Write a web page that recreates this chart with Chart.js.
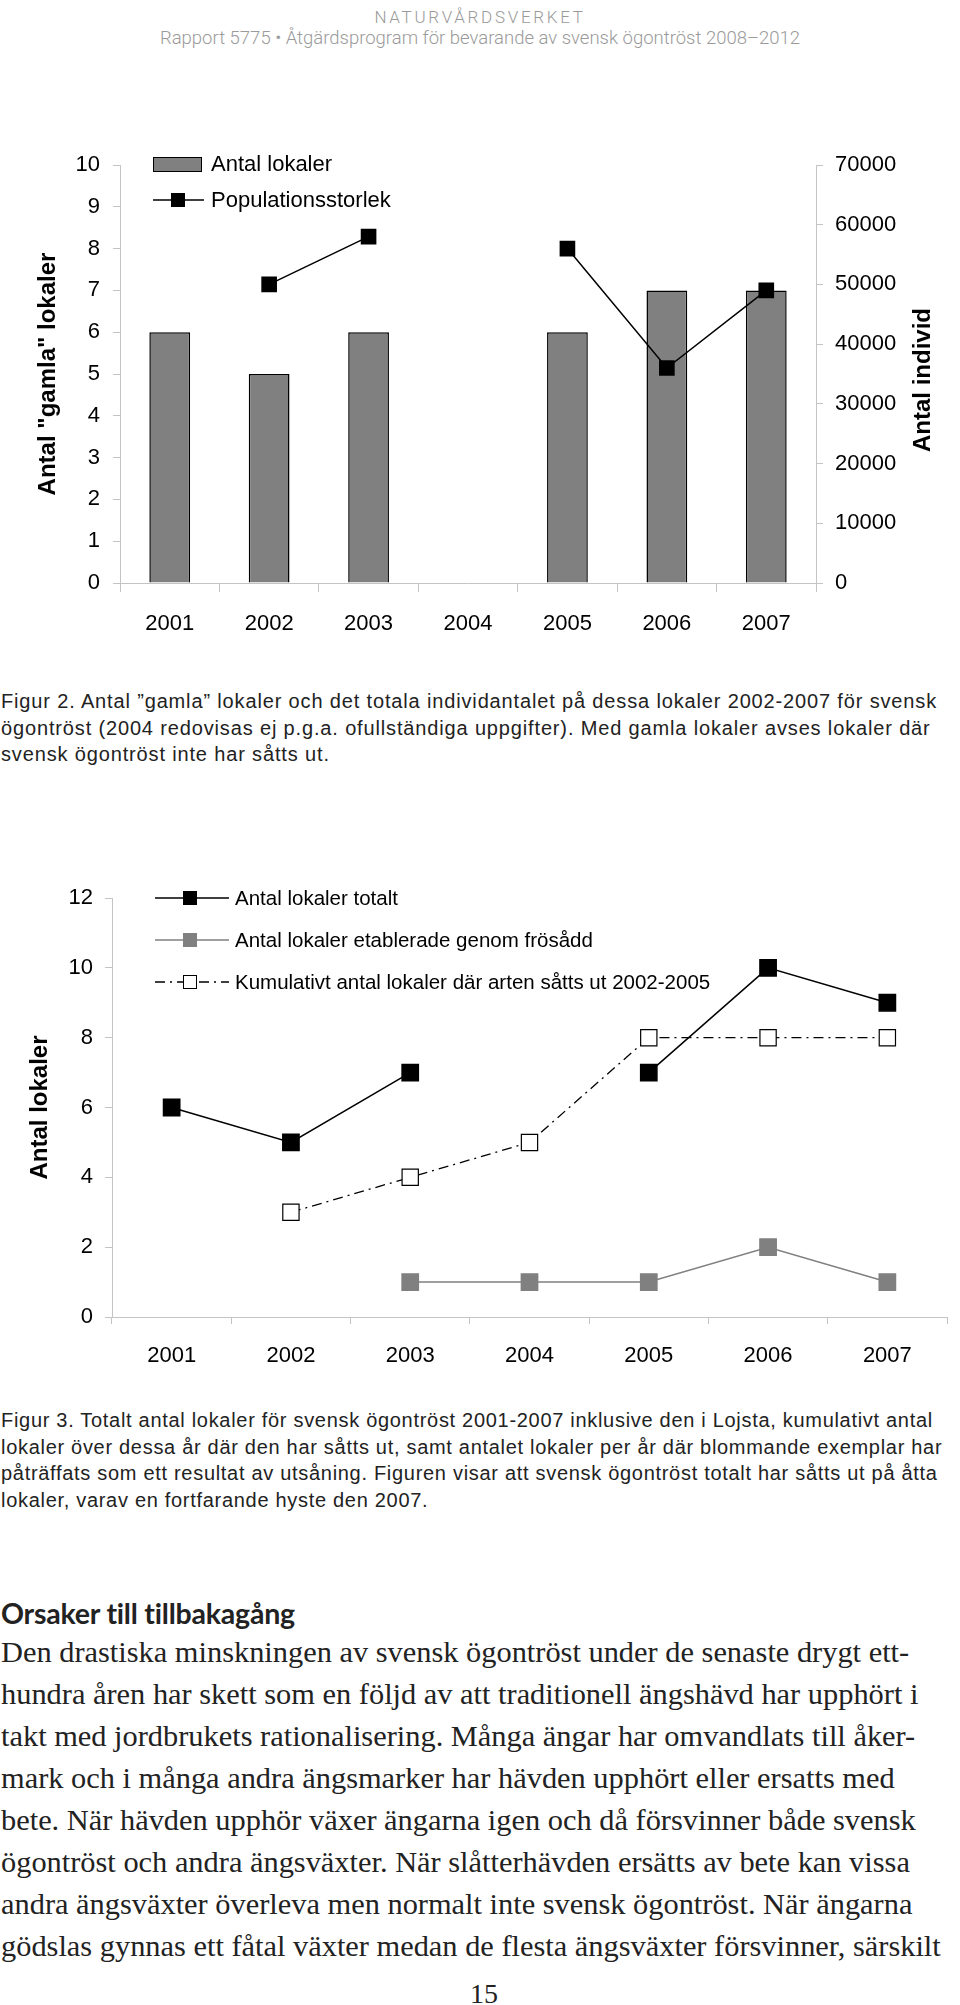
<!DOCTYPE html>
<html>
<head>
<meta charset="utf-8">
<script src="https://cdn.jsdelivr.net/npm/chart.js@4.4.0/dist/chart.umd.min.js"></script>
<style>
    body { margin: 0; background: #fff; width: 960px; height: 2005px; position: relative; overflow: hidden; }
    .t { position: absolute; white-space: nowrap; color: #000; }
    .huvud1 { left: 0; width: 960px; text-align: center; top: 6.5px; font: 300 17px/20px Roboto, "Liberation Sans", sans-serif; letter-spacing: 2.7px; color: #9a9a9a; }
    .huvud2 { left: 0; width: 960px; text-align: center; top: 28px; font: 300 18.5px/20px Roboto, "Liberation Sans", sans-serif; color: #9a9a9a; }
    .figtext { left: 1px; font: 20px/26.5px "Liberation Sans", Arial, sans-serif; letter-spacing: 0.85px; color: #222; }
    .rubrik { left: 1px; top: 1597px; font: bold 28.5px/32px Lato, "Open Sans", sans-serif; letter-spacing: -0.2px; color: #222; }
    .brod { left: 1px; top: 1631px; font: 30.4px/42px "Liberation Serif", "DejaVu Serif", serif; color: #222; }
    .sida { left: 0; width: 968px; text-align: center; top: 1975px; font: 28px/37.3px "Liberation Serif", serif; color: #222; }
    .ruta { position: absolute; left: 0; width: 960px; }
</style>
</head>
<body>
<div class="t huvud1">NATURVÅRDSVERKET</div>
<div class="t huvud2">Rapport 5775 • Åtgärdsprogram för bevarande av svensk ögontröst 2008–2012</div>

<div class="ruta" style="top:130px;height:520px"><canvas id="grafico1" width="960" height="520"></canvas></div>

<div class="t figtext" style="top:688px">Figur 2. Antal ”gamla” lokaler och det totala individantalet på dessa lokaler 2002-2007 för svensk<br>ögontröst (2004 redovisas ej p.g.a. ofullständiga uppgifter). Med gamla lokaler avses lokaler där<br>svensk ögontröst inte har såtts ut.</div>

<div class="ruta" style="top:860px;height:520px"><canvas id="grafico2" width="960" height="520"></canvas></div>

<div class="t figtext" style="top:1407px;letter-spacing:0.7px">Figur 3. Totalt antal lokaler för svensk ögontröst 2001-2007 inklusive den i Lojsta, kumulativt antal<br>lokaler över dessa år där den har såtts ut, samt antalet lokaler per år där blommande exemplar har<br>påträffats som ett resultat av utsåning. Figuren visar att svensk ögontröst totalt har såtts ut på åtta<br>lokaler, varav en fortfarande hyste den 2007.</div>

<div class="t rubrik">Orsaker till tillbakagång</div>
<div class="t brod">Den drastiska minskningen av svensk ögontröst under de senaste drygt ett-<br>hundra åren har skett som en följd av att traditionell ängshävd har upphört i<br>takt med jordbrukets rationalisering. Många ängar har omvandlats till åker-<br>mark och i många andra ängsmarker har hävden upphört eller ersatts med<br>bete. När hävden upphör växer ängarna igen och då försvinner både svensk<br>ögontröst och andra ängsväxter. När slåtterhävden ersätts av bete kan vissa<br>andra ängsväxter överleva men normalt inte svensk ögontröst. När ängarna<br>gödslas gynnas ett fåtal växter medan de flesta ängsväxter försvinner, särskilt</div>
<div class="t sida">15</div>

<script>
const ar = ['2001', '2002', '2003', '2004', '2005', '2006', '2007'];

// figur 2
const antalLokaler = [6, 5, 6, null, 6, 7, 7];
const populationsstorlek = [null, 50000, 58000, null, 56000, 36000, 49000];
const lokalTicks1 = [0, 1, 2, 3, 4, 5, 6, 7, 8, 9, 10];
const individTicks = [0, 10000, 20000, 30000, 40000, 50000, 60000, 70000];

// figur 3
const lokalerTotalt = [6, 5, 7, null, 7, 10, 9];
const lokalerFrosadd = [null, null, 1, 1, 1, 2, 1];
const lokalerKumulativt = [null, 3, 4, 5, 8, 8, 8];
const lokalTicks2 = [0, 2, 4, 6, 8, 10, 12];

const F = '"Liberation Sans", Arial, sans-serif';
const GRA_AXEL = '#c4c4c4';

window.onload = function () {
    lokalerDiagram();
    utsaningDiagram();
}

function axel(extra) {
    return Object.assign({
        grid: { drawOnChartArea: false, drawTicks: true, tickLength: 7, color: GRA_AXEL },
        border: { color: GRA_AXEL },
        ticks: { color: '#000', font: { family: F, size: 22 }, padding: 13, callback: v => String(v) },
    }, extra);
}

function tickar(lista) {
    return function (s) {
        s.ticks = lista.map(v => ({ value: v }));
    };
}

function lokalerDiagram() {
    const legendPlugin = {
        id: 'legend1',
        afterDraw(chart) {
            const c = chart.ctx;
            c.save();
            // Antal lokaler
            c.fillStyle = '#808080';
            c.strokeStyle = '#000';
            c.lineWidth = 1;
            c.fillRect(153, 27, 49, 15);
            c.strokeRect(153.5, 27.5, 48, 14);
            // Populationsstorlek
            c.beginPath();
            c.moveTo(153, 70);
            c.lineTo(204, 70);
            c.lineWidth = 1.5;
            c.stroke();
            c.fillStyle = '#000';
            c.fillRect(171, 63, 14, 14);
            c.font = '22px ' + F;
            c.textBaseline = 'middle';
            c.fillText('Antal lokaler', 211, 35);
            c.fillText('Populationsstorlek', 211, 71);
            // högeraxelns titel
            c.translate(923, 250);
            c.rotate(-Math.PI / 2);
            c.textAlign = 'center';
            c.font = 'bold 24px ' + F;
            c.fillText('Antal individ', 0, 0);
            c.restore();
        }
    };

    const ctx = document.getElementById('grafico1').getContext('2d');
    const myChart = new Chart(ctx, {
        type: 'bar',
        data: {
            labels: ar,
            datasets: [{
                type: 'line',
                label: 'Populationsstorlek',
                data: populationsstorlek,
                yAxisID: 'y1',
                borderColor: '#000',
                borderWidth: 1.5,
                pointStyle: 'rect',
                pointRadius: 10,
                pointBackgroundColor: '#000',
                pointBorderColor: '#000',
                spanGaps: false,
                order: 0
            }, {
                label: 'Antal lokaler',
                data: antalLokaler,
                yAxisID: 'y',
                backgroundColor: '#808080',
                borderColor: '#000',
                borderWidth: 1.5,
                categoryPercentage: 1,
                barPercentage: 0.41,
                order: 1
            }]
        },
        options: {
            responsive: false,
            animation: false,
            layout: { padding: { top: 35, left: 0, right: 0, bottom: 0 } },
            plugins: { legend: { display: false }, tooltip: { enabled: false } },
            scales: {
                x: axel({
                    offset: true,
                    grid: { offset: true, drawOnChartArea: false, drawTicks: true, tickLength: 9, color: GRA_AXEL },
                    ticks: { color: '#000', font: { family: F, size: 22 }, padding: 19, maxRotation: 0, autoSkip: false },
                    afterFit: s => { s.height = 67; }
                }),
                y: axel({
                    position: 'left',
                    min: 0,
                    max: 10,
                    afterBuildTicks: tickar(lokalTicks1),
                    title: { display: true, text: 'Antal "gamla" lokaler', color: '#000', font: { family: F, size: 24, weight: 'bold' }, padding: { top: 34, bottom: 0 } },
                    afterFit: s => { s.width = 120; }
                }),
                y1: axel({
                    position: 'right',
                    min: 0,
                    max: 70000,
                    afterBuildTicks: tickar(individTicks),
                    ticks: { color: '#000', font: { family: F, size: 22 }, padding: 12, callback: v => String(v) },
                    afterFit: s => { s.width = 144; }
                })
            }
        },
        plugins: [legendPlugin]
    });
}

function utsaningDiagram() {
    const legendPlugin = {
        id: 'legend2',
        afterDraw(chart) {
            const c = chart.ctx;
            const rader = [
                { y: 38, text: 'Antal lokaler totalt', farg: '#000', fyll: '#000', dash: [] },
                { y: 80, text: 'Antal lokaler etablerade genom frösådd', farg: '#808080', fyll: '#808080', dash: [] },
                { y: 122, text: 'Kumulativt antal lokaler där arten såtts ut 2002-2005', farg: '#000', fyll: '#fff', dash: [10, 5, 2, 5] }
            ];
            c.save();
            c.font = '20.5px ' + F;
            c.textBaseline = 'middle';
            rader.forEach(r => {
                c.beginPath();
                c.setLineDash(r.dash);
                c.strokeStyle = r.farg;
                c.lineWidth = 1.3;
                c.moveTo(155, r.y);
                c.lineTo(229, r.y);
                c.stroke();
                c.setLineDash([]);
                c.fillStyle = r.fyll;
                c.fillRect(183, r.y - 7, 14, 14);
                if (r.fyll === '#fff') {
                    c.lineWidth = 1;
                    c.strokeRect(183.5, r.y - 6.5, 13, 13);
                }
                c.fillStyle = '#000';
                c.fillText(r.text, 235, r.y + 1);
            });
            c.restore();
        }
    };

    const ctx = document.getElementById('grafico2').getContext('2d');
    const myChart = new Chart(ctx, {
        type: 'line',
        data: {
            labels: ar,
            datasets: [{
                label: 'Antal lokaler totalt',
                data: lokalerTotalt,
                borderColor: '#000',
                borderWidth: 1.5,
                pointStyle: 'rect',
                pointRadius: 11.5,
                pointBackgroundColor: '#000',
                pointBorderColor: '#000',
                spanGaps: false
            }, {
                label: 'Antal lokaler etablerade genom frösådd',
                data: lokalerFrosadd,
                borderColor: '#808080',
                borderWidth: 1.5,
                pointStyle: 'rect',
                pointRadius: 11.5,
                pointBackgroundColor: '#808080',
                pointBorderColor: '#808080',
                spanGaps: false
            }, {
                label: 'Kumulativt antal lokaler där arten såtts ut 2002-2005',
                data: lokalerKumulativt,
                borderColor: '#000',
                borderWidth: 1.3,
                borderDash: [10, 5, 2, 5],
                pointStyle: 'rect',
                pointRadius: 11.5,
                pointBorderWidth: 1.2,
                pointBackgroundColor: '#fff',
                pointBorderColor: '#000',
                spanGaps: false
            }]
        },
        options: {
            responsive: false,
            animation: false,
            layout: { padding: { top: 38, left: 0, right: 8, bottom: 0 } },
            plugins: { legend: { display: false }, tooltip: { enabled: false } },
            scales: {
                x: axel({
                    offset: true,
                    grid: { offset: true, drawOnChartArea: false, drawTicks: true, tickLength: 7, color: GRA_AXEL },
                    ticks: { color: '#000', font: { family: F, size: 22 }, padding: 18.5, maxRotation: 0, autoSkip: false },
                    afterFit: s => { s.height = 63; }
                }),
                y: axel({
                    min: 0,
                    max: 12,
                    afterBuildTicks: tickar(lokalTicks2),
                    ticks: { color: '#000', font: { family: F, size: 22 }, padding: 12 },
                    title: { display: true, text: 'Antal lokaler', color: '#000', font: { family: F, size: 24, weight: 'bold' }, padding: { top: 26, bottom: 0 } },
                    afterFit: s => { s.width = 112; }
                })
            }
        },
        plugins: [legendPlugin]
    });
}
</script>
</body>
</html>
